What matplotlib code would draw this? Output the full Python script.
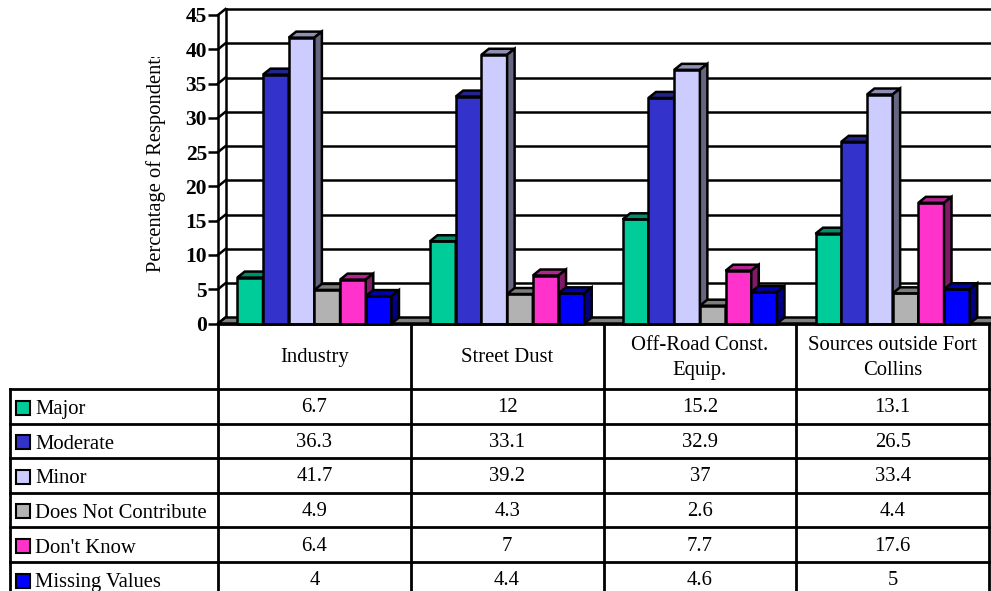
import matplotlib
matplotlib.use("Agg")
import matplotlib.pyplot as plt
from matplotlib.patches import Polygon, Rectangle
from matplotlib.transforms import Bbox, TransformedBbox
from matplotlib.colors import to_rgb
import numpy as np

plt.rcParams["font.family"] = ["Liberation Serif", "DejaVu Serif"]

# ---- data -------------------------------------------------------------
categories = ["Industry", "Street Dust", "Off-Road Const.\nEquip.",
              "Sources outside Fort\nCollins"]
series_names = ["Major", "Moderate", "Minor", "Does Not Contribute",
                "Don't Know", "Missing Values"]
major = [6.7, 12, 15.2, 13.1]
moderate = [36.3, 33.1, 32.9, 26.5]
minor = [41.7, 39.2, 37, 33.4]
not_contribute = [4.9, 4.3, 2.6, 4.4]
dont_know = [6.4, 7, 7.7, 17.6]
missing = [4, 4.4, 4.6, 5]
y_ticks = [0, 5, 10, 15, 20, 25, 30, 35, 40, 45]
y_label = "Percentage of Respondents"

series = [major, moderate, minor, not_contribute, dont_know, missing]
colors = ["#00CC99", "#3333CC", "#CCCCFF", "#B2B2B2", "#FF33CC", "#0000FF"]


def shade(c, f):
    r, g, b = to_rgb(c)
    return (r * f, g * f, b * f)


# ---- figure / layout --------------------------------------------------
W, H = 991, 591
fig = plt.figure(figsize=(W / 100, H / 100), dpi=100)
fig.patch.set_facecolor("white")

plot_left, plot_right = 218, 989
zero_y, top_y = 323.5, 15.0
ax = fig.add_axes([plot_left / W, (H - zero_y) / H,
                   (plot_right - plot_left) / W, (zero_y - top_y) / H])
ax.set_xlim(-0.5, 3.5)
ax.set_ylim(0, 45)
ax.set_facecolor("none")
for s in ("top", "right", "bottom"):
    ax.spines[s].set_visible(False)
ax.spines["left"].set_linewidth(1.8)
ax.spines["left"].set_zorder(5)
ax.set_xticks([])
ax.set_yticks(y_ticks)
ax.tick_params(axis="y", direction="out", length=7, width=1.8, pad=1,
               labelsize=15.5)
for lab in ax.get_yticklabels():
    lab.set_fontweight("bold")

# depth of the 3-D look, in pixels -> data units
p0 = ax.transData.transform((0, 0))
p1 = ax.transData.transform((1, 1))
ppx, ppy = p1 - p0
DX = 7.5 / ppx
DY = 6.0 / ppy

LW = 1.8
xl_wall, xr_wall = -0.5, 3.5 + 0.2

# back wall gridlines and left wall diagonals
for t in y_ticks:
    ax.plot([xl_wall + DX, xr_wall + DX], [t + DY, t + DY], color="black",
            lw=LW, clip_on=False, zorder=2, solid_capstyle="butt")
    ax.plot([xl_wall, xl_wall + DX], [t, t + DY], color="black", lw=LW,
            clip_on=False, zorder=2)
ax.plot([xl_wall + DX, xl_wall + DX], [DY, 45 + DY], color="black", lw=LW,
        clip_on=False, zorder=2)

# floor
ax.add_patch(Polygon([(xl_wall, 0), (xr_wall, 0), (xr_wall + DX, DY),
                      (xl_wall + DX, DY)], closed=True, fc="#808080",
                     ec="black", lw=LW, clip_on=False, zorder=3))

# 3-D columns
n = len(series)
w = 0.8 / n
x = np.arange(len(categories))
for j, (vals, col) in enumerate(zip(series, colors)):
    left = x - 0.4 + j * w
    ax.bar(left, vals, width=w, align="edge", color=col, edgecolor="black",
           lw=LW, zorder=10 + 2 * j, clip_on=False)
    for xl, v in zip(left, vals):
        ax.add_patch(Polygon([(xl, v), (xl + w, v), (xl + w + DX, v + DY),
                              (xl + DX, v + DY)], closed=True,
                             fc=shade(col, 0.7), ec="black", lw=LW,
                             zorder=11 + 2 * j, clip_on=False,
                             joinstyle="miter"))
        ax.add_patch(Polygon([(xl + w, 0), (xl + w + DX, DY),
                              (xl + w + DX, v + DY), (xl + w, v)],
                             closed=True, fc=shade(col, 0.5), ec="black",
                             lw=LW, zorder=11 + 2 * j, clip_on=False,
                             joinstyle="miter"))

# axis title, clipped at the top like the original chart box
yl = ax.text(-0.08, 0.527, y_label, transform=ax.transAxes, rotation=90,
             ha="center", va="center", fontsize=14.8)
yl.set_clip_box(TransformedBbox(Bbox([[0, 0], [1, (H - 57) / H]]),
                                fig.transFigure))
yl.set_clip_on(True)

# ---- data table -------------------------------------------------------
tab_left, tab_top = 10, zero_y
row_h = 34.6
head_h = 65.5
n_rows = len(series)
tab_bottom = tab_top + head_h + n_rows * row_h
label_w = (plot_left - tab_left) / ppx
head = head_h / row_h

tab = fig.add_axes([tab_left / W, (H - tab_bottom) / H,
                    (plot_right - tab_left) / W, (tab_bottom - tab_top) / H])
xL = -0.5 - label_w
tab.set_xlim(xL, 3.5)
tab.set_ylim(head + n_rows, 0)
tab.axis("off")

TLW = 2.0
kw = dict(color="black", lw=TLW, clip_on=False, solid_capstyle="projecting")
tab.plot([-0.5, 3.5], [0, 0], **kw)
for k in range(n_rows + 1):
    tab.plot([xL, 3.5], [head + k, head + k], **kw)
for i in range(len(categories) + 1):
    tab.plot([-0.5 + i, -0.5 + i], [0, head + n_rows], **kw)
tab.plot([xL, xL], [head, head + n_rows], **kw)

FS = 14.9
for i, c in enumerate(categories):
    tab.text(i, head / 2 + 0.05, c, ha="center", va="center", fontsize=FS,
             linespacing=1.4)

sw_w = 14 / ppx
sw_h = 14 / row_h
for r, (name, vals, col) in enumerate(zip(series_names, series, colors)):
    yc = head + r + 0.5 + 0.04
    tab.add_patch(Rectangle((xL + 6 / ppx, yc - sw_h / 2), sw_w, sw_h,
                            fc=col, ec="black", lw=1.5, clip_on=False))
    tab.text(xL + 25 / ppx, yc + 0.06, name, ha="left", va="center",
             fontsize=FS)
    for i, v in enumerate(vals):
        tab.text(i, yc, f"{v:g}", ha="center", va="center", fontsize=FS)

fig.savefig("out.png", dpi=100)
